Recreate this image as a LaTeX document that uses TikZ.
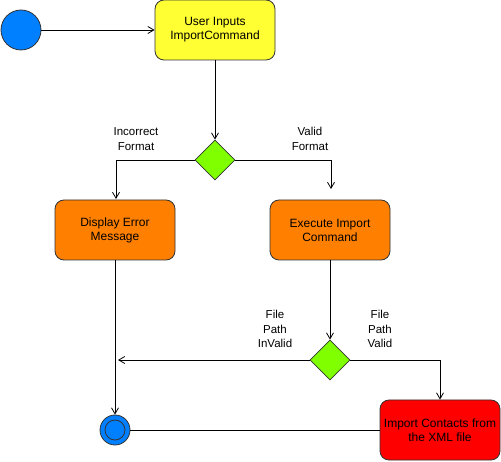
\documentclass[tikz,border=0pt]{standalone}
\usepackage{fontspec}
\setmainfont{Liberation Sans}
\usetikzlibrary{shapes.geometric,arrows.meta}
\definecolor{startblue}{RGB}{0,127,255}
\definecolor{boxyellow}{RGB}{255,255,51}
\definecolor{boxorange}{RGB}{255,128,0}
\definecolor{boxgreen}{RGB}{128,255,0}
\definecolor{boxred}{RGB}{255,0,0}
\tikzset{
  actbox/.style={draw=black!80, line width=0.8pt, rounded corners=9pt, minimum width=120pt, minimum height=60pt, align=center, font=\fontsize{12}{14}\selectfont, inner sep=1pt},
  decis/.style={draw=black!80, line width=0.8pt, fill=boxgreen, diamond, minimum width=40pt, minimum height=40pt, inner sep=0pt},
  conn/.style={line width=0.8pt, -{Straight Barb[length=6pt,width=7pt]}},
  plain/.style={line width=0.8pt},
  lbl/.style={align=center, font=\fontsize{11.5}{14.5}\selectfont, inner sep=0pt}
}
\begin{document}
\begin{tikzpicture}[x=1pt,y=-1pt]
\useasboundingbox (0,0) rectangle (501,462);
\node[circle, draw=black!80, line width=0.8pt, fill=startblue, minimum size=40pt, inner sep=0pt] (start) at (21,30) {};
\node[actbox, fill=boxyellow] (input) at (215,30) {User Inputs\\ImportCommand};
\node[decis] (d1) at (215,160) {};
\node[actbox, fill=boxorange] (err) at (115,230) {Display Error\\Message};
\node[actbox, fill=boxorange] (exec) at (330,230) {Execute Import\\Command};
\node[decis] (d2) at (330,360) {};
\node[actbox, fill=boxred] (imp) at (440,430) {Import Contacts from\\the XML file};
\node[circle, draw=black!80, line width=0.8pt, fill=startblue, minimum size=30pt, inner sep=0pt] (end) at (115,430) {};
\node[circle, draw=black!80, line width=0.8pt, minimum size=20pt, inner sep=0pt] at (end.center) {};
\coordinate (errin) at (116,199);
\coordinate (execin) at (331,189);
\coordinate (join) at (118,360);

\draw[conn] (start) -- (input);
\draw[conn] (input) -- (d1);
\draw[conn] (d1.west) -| (errin);
\draw[conn] (d1.east) -| (execin);
\draw[conn] (exec) -- (d2);
\draw[conn] (d2.west) -- (join);
\draw[conn] (d2.east) -| (imp.north);
\draw[conn] (err) -- (end);
\draw[plain] (imp) -- (end);

\node[lbl] (l1) at (136,139) {Incorrect\\Format};
\node[lbl] (l2) at (310,139) {Valid\\Format};
\node[lbl] (l3) at (275,329) {File\\Path\\InValid};
\node[lbl] (l4) at (380,329) {File\\Path\\Valid};
\end{tikzpicture}
\end{document}
